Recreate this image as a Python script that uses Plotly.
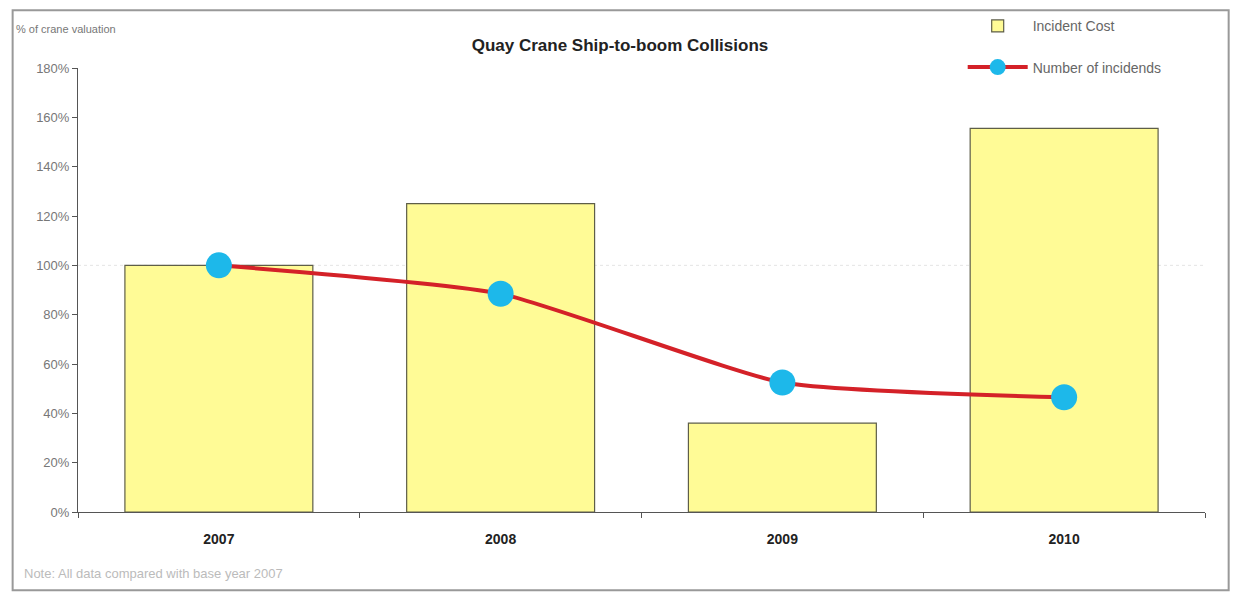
import plotly.graph_objects as go

years = ["2007", "2008", "2009", "2010"]
incident_cost = [1.00, 1.25, 0.36, 1.555]
num_incidents = [1.00, 0.885, 0.525, 0.465]
y_ticks = [0, 0.2, 0.4, 0.6, 0.8, 1.0, 1.2, 1.4, 1.6, 1.8]

FONT = "Liberation Sans, Arial, sans-serif"

fig = go.Figure()
fig.add_trace(go.Bar(
    x=years, y=incident_cost, name="Incident Cost", legendgroup="a",
    marker=dict(color="#FFFB96", line=dict(color="#5E5E48", width=1.2)),
    width=0.667,
))
fig.add_trace(go.Scatter(
    x=years, y=num_incidents, name="Number of incidends", legendgroup="b",
    mode="lines+markers",
    line=dict(color="#D42128", width=4, shape="spline", smoothing=0.5),
    marker=dict(color="#1DB8EA", size=26),
))

fig.update_layout(
    width=1235, height=592,
    paper_bgcolor="white", plot_bgcolor="white",
    margin=dict(l=78, r=30, t=68, b=80, autoexpand=False),
    font=dict(family=FONT, color="#555555"),
    title=dict(text="<b>Quay Crane Ship-to-boom Collisions</b>",
               x=0.502, xanchor="center", y=0.924, yanchor="middle",
               font=dict(size=17, color="#222222", family=FONT)),
    showlegend=True,
    legend=dict(x=0.785, y=1.13, xanchor="left", yanchor="top",
                bgcolor="rgba(0,0,0,0)", font=dict(size=14, color="#666666"),
                itemwidth=60, tracegroupgap=20, traceorder="grouped"),
    bargap=0.333,
)
fig.update_xaxes(
    type="category", showline=True, linecolor="#555555", linewidth=1,
    ticks="outside", tickson="boundaries", ticklen=5, tickcolor="#555555",
    tickfont=dict(size=14, color="#222222", family=FONT),
    tickprefix="<b>", ticksuffix="</b>", showgrid=False,
    ticklabelstandoff=14,
)
fig.update_yaxes(
    range=[0, 1.8], tickvals=y_ticks, tickformat=".0%",
    showline=True, linecolor="#555555", linewidth=1,
    ticks="outside", ticklen=5, tickcolor="#555555",
    tickfont=dict(size=13, color="#777777"), showgrid=False,
    zeroline=False,
)
# faint dotted reference line at 100%
fig.add_shape(type="line", xref="paper", yref="y", x0=0, x1=1, y0=1.0, y1=1.0,
              line=dict(color="#E4E4E4", width=1, dash="dot"), layer="below")
# outer border
fig.add_shape(type="rect", xref="paper", yref="paper",
              x0=-0.058, x1=1.021, y0=-0.176, y1=1.13,
              line=dict(color="#999999", width=2))
fig.add_annotation(text="% of crane valuation", xref="paper", yref="paper",
                   x=-0.057, y=1.087, xanchor="left", yanchor="middle",
                   showarrow=False, font=dict(size=11, color="#777777"))
fig.add_annotation(text="Note: All data compared with base year 2007",
                   xref="paper", yref="paper", x=-0.05, y=-0.138,
                   xanchor="left", yanchor="middle", showarrow=False,
                   font=dict(size=13, color="#BBBBBB"))

fig.write_html("out.html")
